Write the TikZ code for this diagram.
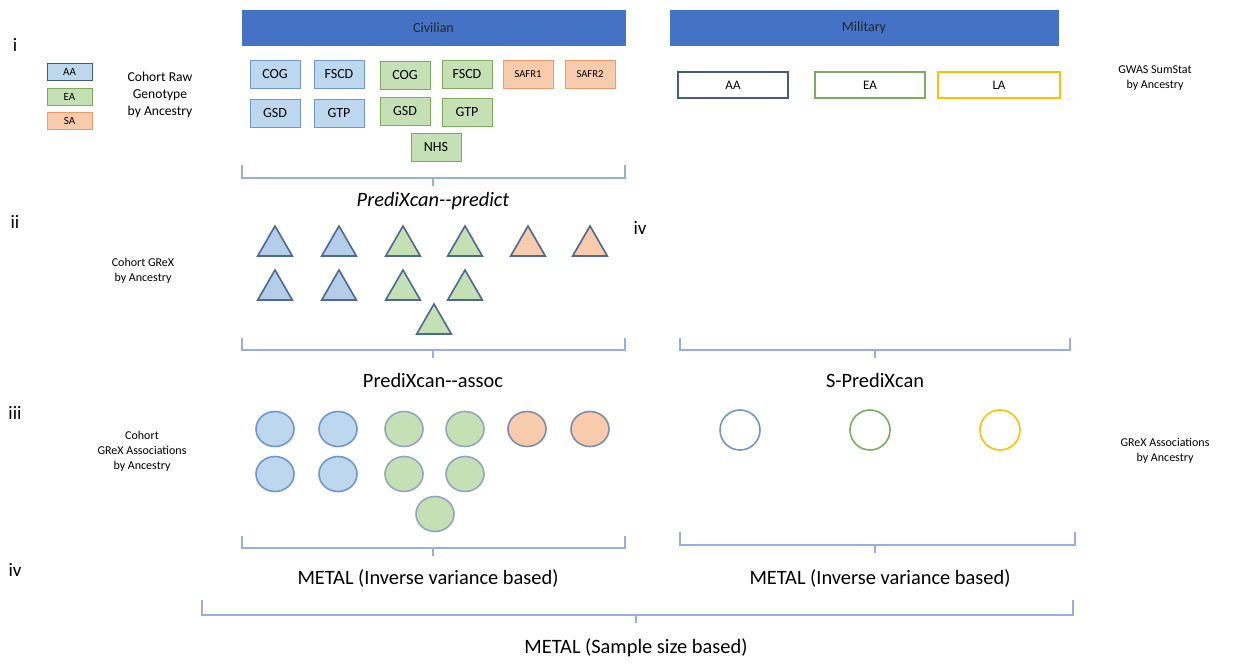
\documentclass[tikz,border=0pt]{standalone}
\usepackage{xcolor}
\usepackage{fontspec}
\setmainfont{Carlito}
\usetikzlibrary{shapes.geometric}

\definecolor{barblue}{RGB}{68,114,196}
\definecolor{aafill}{RGB}{189,215,238}
\definecolor{aaline}{RGB}{112,150,205}
\definecolor{eafill}{RGB}{197,224,180}
\definecolor{ealine}{RGB}{125,172,95}
\definecolor{safill}{RGB}{248,203,173}
\definecolor{saline}{RGB}{238,155,105}
\definecolor{trifill}{RGB}{180,205,232}
\definecolor{triline}{RGB}{75,105,145}
\definecolor{brkcol}{RGB}{150,175,220}
\definecolor{laline}{RGB}{255,192,0}
\definecolor{aadark}{RGB}{70,90,135}

\tikzset{
	bar/.style={fill=barblue,draw=barblue,minimum width=191.5pt,minimum height=17.5pt,inner sep=0pt,text=black!85,font=\fontsize{7}{8}\selectfont},
	cohort/.style={draw,minimum width=25pt,minimum height=14pt,inner sep=0pt,font=\fontsize{7}{8}\selectfont},
	aabox/.style={cohort,fill=aafill,draw=aaline},
	eabox/.style={cohort,fill=eafill,draw=ealine},
	sabox/.style={cohort,fill=safill,draw=saline,font=\fontsize{5.3}{6}\selectfont},
	legbox/.style={draw,minimum width=22.5pt,minimum height=8.5pt,inner sep=0pt,font=\fontsize{5.5}{6}\selectfont},
	sumbox/.style={draw,semithick,minimum width=55pt,minimum height=13pt,inner sep=0pt,font=\fontsize{6.5}{7}\selectfont},
	tri/.style={regular polygon,regular polygon sides=3,minimum size=20pt,inner sep=0pt,draw=triline,thick},
	dot/.style={ellipse,minimum width=19pt,minimum height=17.5pt,inner sep=0pt,thick},
	ring/.style={circle,minimum size=20pt,inner sep=0pt,draw,thick},
	brk/.style={draw=brkcol,line width=0.7pt},
	small/.style={align=center,font=\fontsize{6}{7.5}\selectfont},
	step label/.style={font=\fontsize{10.2}{11}\selectfont},
	num/.style={font=\fontsize{9.5}{10}\selectfont}
}

\newcommand{\underbrk}[5]{% x1, x2, y, x of middle tick, height of end ticks
	\draw[brk] (#1,#3-#5) -- (#1,#3) -- (#2,#3) -- (#2,#3-#5);
	\draw[brk] (#4,#3) -- (#4,#3+8);
}

\begin{document}
\begin{tikzpicture}[x=0.5pt,y=-0.5pt]
	\useasboundingbox (0,0) rectangle (1233,664);

	% bars
	\node[bar] (civilian) at (433.5,27.5) {Civilian};
	\node[bar,minimum width=194pt] (military) at (864,27.5) {Military};

	% step numbers
	\node[num] (n1) at (15,45) {i};
	\node[num] (n2) at (15,222) {ii};
	\node[num] (n3) at (15,413) {iii};
	\node[num] (n4) at (15,570) {iv};
	\node[num] (n4b) at (640,228) {iv};

	% legend
	\node[legbox,fill=aafill,draw=aadark] (legAA) at (69.5,72) {AA};
	\node[legbox,fill=eafill,draw=ealine] (legEA) at (69.5,96.5) {EA};
	\node[legbox,fill=safill,draw=saline] (legSA) at (69.5,121) {SA};
	\node[small,font=\fontsize{6.8}{8.5}\selectfont] (rawlabel) at (160,95) {Cohort Raw\\Genotype\\by Ancestry};

	% civilian cohorts
	\node[aabox] (cogAA) at (275,74) {COG};
	\node[aabox] (fscdAA) at (339,74) {FSCD};
	\node[eabox] (cogEA) at (405,75) {COG};
	\node[eabox] (fscdEA) at (467,74) {FSCD};
	\node[sabox] (safr1) at (528,74) {SAFR1};
	\node[sabox] (safr2) at (590,74) {SAFR2};
	\node[aabox] (gsdAA) at (275,113) {GSD};
	\node[aabox] (gtpAA) at (339,113) {GTP};
	\node[eabox] (gsdEA) at (405,111) {GSD};
	\node[eabox] (gtpEA) at (467,112) {GTP};
	\node[eabox] (nhs) at (436,147) {NHS};

	% military sumstats
	\node[sumbox,draw=aadark] (sumAA) at (733,85) {AA};
	\node[sumbox,draw=ealine] (sumEA) at (870,85) {EA};
	\node[sumbox,draw=laline,minimum width=61pt] (sumLA) at (999,85) {LA};
	\node[small] (gwaslabel) at (1155,78) {GWAS SumStat\\by Ancestry};

	\underbrk{242}{625}{178}{433}{13}
	\node[step label,font=\fontsize{10.2}{11}\selectfont\itshape] (predict) at (433,201) {PrediXcan-{}-predict};

	% predicted GReX
	\node[small] (grexlabel) at (143,271) {Cohort GReX\\by Ancestry};
	\foreach \x/\c [count=\i] in {275/trifill,339/trifill,403/eafill,465/eafill,528/safill,590/safill}
		\node[tri,fill=\c] (triA\i) at (\x,246) {};
	\foreach \x/\c [count=\i] in {275/trifill,339/trifill,403/eafill,465/eafill}
		\node[tri,fill=\c] (triB\i) at (\x,290) {};
	\node[tri,fill=eafill] (triC1) at (434,324) {};

	\underbrk{242}{625}{350}{433}{12}
	\underbrk{680}{1070}{350}{875}{12}
	\node[step label] (assoc) at (433,380) {PrediXcan-{}-assoc};
	\node[step label] (sprediXcan) at (875,380) {S-PrediXcan};

	% associations
	\node[small] (assoclabel) at (142,451) {Cohort\\GReX Associations\\by Ancestry};
	\foreach \x/\c/\l [count=\i] in {275/aafill/aaline,338/aafill/aaline,404/eafill/triline!60,465/eafill/triline!60,527/safill/aadark!70,590/safill/aadark!70}
		\node[dot,fill=\c,draw=\l] (dotA\i) at (\x,429) {};
	\foreach \x/\c/\l [count=\i] in {275/aafill/aaline,338/aafill/aaline,404/eafill/triline!60,465/eafill/triline!60}
		\node[dot,fill=\c,draw=\l] (dotB\i) at (\x,474) {};
	\node[dot,fill=eafill,draw=triline!60] (dotC1) at (435,514) {};
	\node[ring,draw=aaline] (ringAA) at (740,430) {};
	\node[ring,draw=ealine] (ringEA) at (870,430) {};
	\node[ring,draw=laline] (ringLA) at (1000,430) {};
	\node[small] (sassoclabel) at (1165,451) {GReX Associations\\by Ancestry};

	\underbrk{242}{625}{548}{433}{12}
	\underbrk{680}{1075}{545}{875}{13}
	\node[step label] (metalL) at (428,578) {METAL (Inverse variance based)};
	\node[step label] (metalR) at (880,578) {METAL (Inverse variance based)};

	\underbrk{202}{1073}{615}{636}{15}
	\node[step label] (metalall) at (636,648) {METAL (Sample size based)};
\end{tikzpicture}
\end{document}
